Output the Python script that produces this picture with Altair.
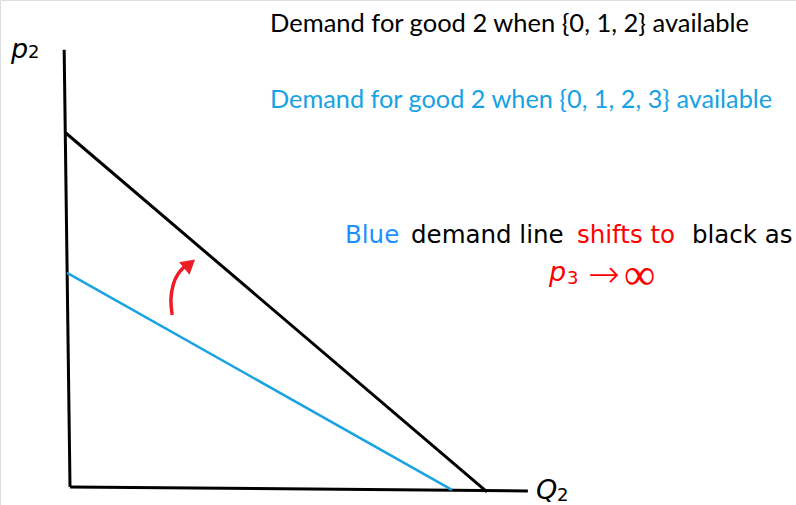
import altair as alt
import pandas as pd

# Demand lines as (quantity, price) endpoints
black_q = [-0.10, 10.00]
black_p = [10.00, -0.14]
blue_q = [-0.07, 9.16]
blue_p = [6.05, -0.08]

# Hand-drawn axes (slightly tilted)
vaxis_q = [-0.14, 0.00]
vaxis_p = [12.35, 0.00]
haxis_q = [0.00, 10.98]
haxis_p = [0.00, -0.11]

# Curved red arrow: shaft path and head position
arrow_q = [2.45, 2.40, 2.47, 2.58, 2.76]
arrow_p = [4.86, 5.30, 5.75, 6.03, 6.24]
head_q = [2.87]
head_p = [6.30]

W, H = 796, 505
PX_Q, PX_P = 41.7, 35.4
ORIGIN_X, ORIGIN_Y = 70, 487

xs = alt.Scale(domain=[-ORIGIN_X / PX_Q, (W - ORIGIN_X) / PX_Q], nice=False, zero=False)
ys = alt.Scale(domain=[(ORIGIN_Y - H) / PX_P, ORIGIN_Y / PX_P], nice=False, zero=False)

SANS = "DejaVu Sans"
CAPTION = "Lato"


def seg(qs, ps):
    return pd.DataFrame({"q": qs, "p": ps, "o": list(range(len(qs)))})


def line(qs, ps, color, width, interp="linear"):
    return alt.Chart(seg(qs, ps)).mark_line(
        color=color, strokeWidth=width, interpolate=interp, strokeCap="butt"
    ).encode(
        x=alt.X("q:Q", scale=xs, axis=None),
        y=alt.Y("p:Q", scale=ys, axis=None),
        order="o:Q",
    )


def label(text, x, y, color="black", size=24, font=SANS, style="normal",
          baseline="alphabetic", weight=400):
    return alt.Chart(pd.DataFrame({"t": [text]})).mark_text(
        align="left", baseline=baseline, color=color, fontSize=size,
        font=font, fontStyle=style, fontWeight=weight,
    ).encode(x=alt.value(x), y=alt.value(y), text="t:N")


RED = "#ee1c25"
BLUE_LINE = "#1aa3e2"

layers = [
    line(vaxis_q, vaxis_p, "black", 3),
    line(haxis_q, haxis_p, "black", 3),
    line(blue_q, blue_p, BLUE_LINE, 2.5),
    line(black_q, black_p, "black", 3),
    line(arrow_q, arrow_p, RED, 3.5, "basis"),
    alt.Chart(pd.DataFrame({"q": head_q, "p": head_p})).mark_point(
        shape="triangle-up", filled=True, color=RED, size=260, angle=50, opacity=1
    ).encode(x=alt.X("q:Q", scale=xs, axis=None), y=alt.Y("p:Q", scale=ys, axis=None)),
    # axis labels
    label("p", 11, 58, size=27, style="italic"),
    label("2", 28, 58, size=18),
    label("Q", 536, 499, size=27, style="italic"),
    label("2", 557, 501, size=18),
    # legend-like captions
    label("Demand for good 2 when {0, 1, 2} available", 270, 32, size=25.5, font=CAPTION),
    label("Demand for good 2 when {0, 1, 2, 3} available", 270, 108, color="#17a2e4",
          size=25.3, font=CAPTION),
    # annotation
    label("Blue", 345, 243, color="#1e8fff", size=24.5),
    label("demand line", 411, 243, size=24.5),
    label("shifts to", 577, 243, color="#ff0000", size=24.5),
    label("black as", 692, 243, size=24.5),
    label("p", 549, 281, color="#ff0000", size=27, style="italic"),
    label("3", 567, 284, color="#ff0000", size=18),
    label("\u2192", 588, 276, color="#ff0000", size=38, baseline="middle", weight=200),
    label("\u221e", 624, 276, color="#ff0000", size=44, baseline="middle", weight=200),
]

chart = alt.layer(*layers).properties(
    width=W, height=H, autosize=alt.AutoSizeParams(type="none"), padding=0
).configure_view(stroke=None).configure(background="white")

chart.save("out.html", embed_options={"renderer": "svg", "actions": False})
